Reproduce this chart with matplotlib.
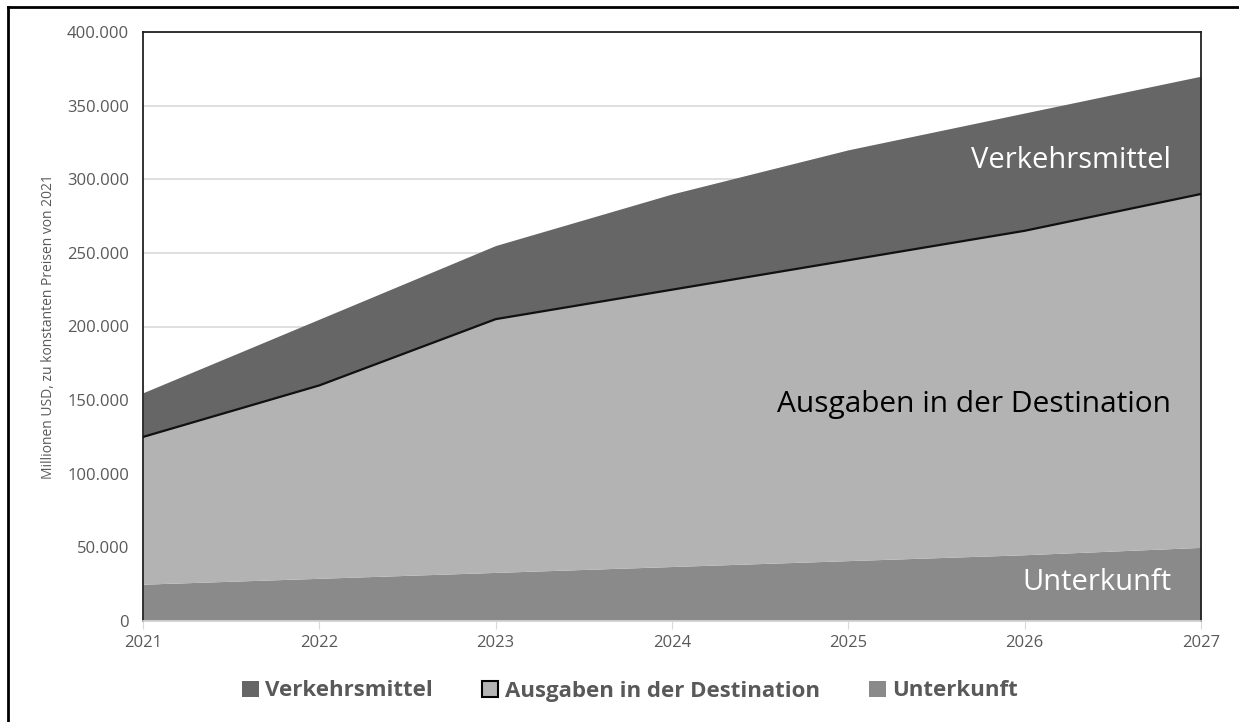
import matplotlib
matplotlib.use("Agg")
import matplotlib.pyplot as plt
from matplotlib.lines import Line2D
from matplotlib.patches import Patch
from matplotlib.ticker import FuncFormatter
import numpy as np

plt.rcParams["font.family"] = ["Open Sans", "DejaVu Sans"]

years = [2021, 2022, 2023, 2024, 2025, 2026, 2027]
unterkunft = [25000, 29000, 33000, 37000, 41000, 45000, 50000]
ausgaben = [100000, 131000, 172000, 188000, 204000, 220000, 240000]
verkehrsmittel = [30000, 45000, 50000, 65000, 75000, 80000, 80000]

series_names = ["Verkehrsmittel", "Ausgaben in der Destination", "Unterkunft"]
colors = {"Verkehrsmittel": "#666666", "Ausgaben in der Destination": "#b3b3b3", "Unterkunft": "#8a8a8a"}
tick_color = "#595959"

x = np.array(years)
u = np.array(unterkunft)
a = u + np.array(ausgaben)
v = a + np.array(verkehrsmittel)

fig = plt.figure(figsize=(12.39, 7.22), dpi=100)
ax = fig.add_axes([143 / 1239, 1 - 621 / 722, (1201 - 143) / 1239, (621 - 32) / 722])

ax.fill_between(x, 0, u, color=colors["Unterkunft"], linewidth=0, zorder=2)
ax.fill_between(x, u, a, color=colors["Ausgaben in der Destination"], linewidth=0, zorder=2)
ax.fill_between(x, a, v, color=colors["Verkehrsmittel"], linewidth=0, zorder=2)
ax.plot(x, a, color="#111111", linewidth=1.6, zorder=3)

ax.set_xlim(2021, 2027)
ax.set_ylim(0, 400000)
ax.set_xticks(years)
ax.set_yticks(np.arange(0, 400001, 50000))
ax.yaxis.set_major_formatter(FuncFormatter(lambda val, pos: f"{int(val):,}".replace(",", ".")))
ax.grid(axis="y", color="#d9d9d9", linewidth=1.2, zorder=0)
ax.set_axisbelow(True)

ax.tick_params(axis="y", length=0, labelsize=12, labelcolor=tick_color, pad=10)
ax.tick_params(axis="x", length=6, color="#d9d9d9", labelsize=12, labelcolor=tick_color, pad=4)

for side in ["left", "top", "right"]:
    ax.spines[side].set_color("#222222")
    ax.spines[side].set_linewidth(1.3)
ax.spines["bottom"].set_color("#d9d9d9")
ax.spines["bottom"].set_linewidth(1.2)

ax.set_ylabel("Millionen USD, zu konstanten Preisen von 2021", fontsize=10, color=tick_color, labelpad=8)

ax.text(2026.83, 313000, "Verkehrsmittel", color="white", fontsize=21, ha="right", va="center", zorder=4)
ax.text(2026.83, 147000, "Ausgaben in der Destination", color="black", fontsize=21.5, ha="right", va="center", zorder=4)
ax.text(2026.83, 26000, "Unterkunft", color="white", fontsize=21, ha="right", va="center", zorder=4)

handles = [
    Patch(facecolor=colors["Verkehrsmittel"], edgecolor="none"),
    Patch(facecolor=colors["Ausgaben in der Destination"], edgecolor="black", linewidth=1.5),
    Patch(facecolor=colors["Unterkunft"], edgecolor="none"),
]
fig.legend(handles, series_names, loc="center", bbox_to_anchor=(630 / 1239, 1 - 691 / 722), ncol=3,
           frameon=False, handlelength=0.75, handleheight=0.75, handletextpad=0.3, columnspacing=2.2,
           prop={"size": 16, "weight": "bold"}, labelcolor=tick_color)

# outer frame (visible on left and top)
fig.add_artist(Line2D([8 / 1239, 8 / 1239], [0, 1 - 7 / 722], transform=fig.transFigure, color="black", linewidth=2))
fig.add_artist(Line2D([8 / 1239, 1], [1 - 7 / 722, 1 - 7 / 722], transform=fig.transFigure, color="black", linewidth=2))

fig.savefig("out.png", dpi=100)
